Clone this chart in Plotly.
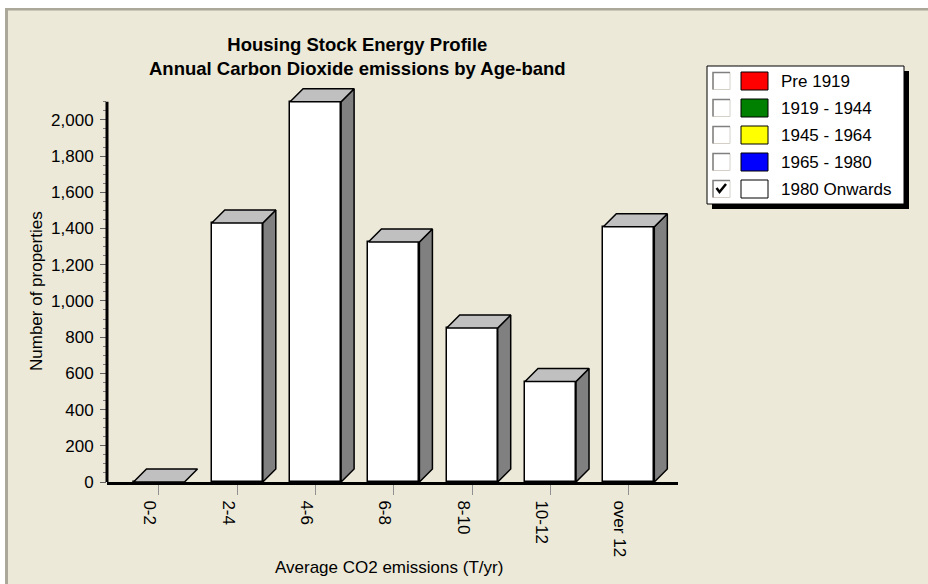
import plotly.graph_objects as go

# ---- data -------------------------------------------------------------
categories = ["0-2", "2-4", "4-6", "6-8", "8-10", "10-12", "over 12"]
properties_1980_onwards = [0, 1430, 2100, 1325, 850, 555, 1410]

y_tick_values = [0, 200, 400, 600, 800, 1000, 1200, 1400, 1600, 1800, 2000]
y_minor_values = [v for v in range(50, 2101, 50) if v % 200 != 0]
y_axis_top = 2100

age_bands = ["Pre 1919", "1919 - 1944", "1945 - 1964", "1965 - 1980", "1980 Onwards"]
band_colors = ["#FF0000", "#008000", "#FFFF00", "#0000FF", "#FFFFFF"]
band_checked = [False, False, False, False, True]

# ---- layout geometry ----------------------------------------------------
W, H = 928, 584
M_L, M_R, M_T, M_B = 107, 250, 86, 102
PLOT_W = W - M_L - M_R
PLOT_H = H - M_T - M_B
X_RANGE = [-0.664, 6.628]
Y_RANGE = [0, 2187]

px_per_cat = PLOT_W / (X_RANGE[1] - X_RANGE[0])
px_per_val = PLOT_H / (Y_RANGE[1] - Y_RANGE[0])
bar_w = 51 / px_per_cat      # front face width
depth_x = 13 / px_per_cat    # 3-D depth offset
depth_y = 13 / px_per_val

FONT = "Liberation Sans, Arial, sans-serif"
BG = "#ECE9D8"
FRAME = "#ACA899"


def paper_x(px):
    return (px - M_L) / PLOT_W


def paper_y(py):
    return (H - M_B - py) / PLOT_H


x_pos = list(range(len(categories)))

# ---- 3-D bar faces ------------------------------------------------------
top_x, top_y, side_x, side_y = [], [], [], []
for x, v in zip(x_pos, properties_1980_onwards):
    l, r = x - bar_w / 2, x + bar_w / 2
    top_x += [l, r, r + depth_x, l + depth_x, l, None]
    top_y += [v, v, v + depth_y, v + depth_y, v, None]
    if v > 0:
        side_x += [r, r + depth_x, r + depth_x, r, r, None]
        side_y += [0, depth_y, v + depth_y, v, 0, None]

fig = go.Figure()
fig.add_trace(go.Bar(
    x=x_pos, y=properties_1980_onwards, width=bar_w,
    marker=dict(color="white", line=dict(color="black", width=1.5)),
    hoverinfo="skip", showlegend=False,
))
fig.add_trace(go.Scatter(
    x=side_x, y=side_y, mode="lines", fill="toself", fillcolor="#808080",
    line=dict(color="black", width=1.5), hoverinfo="skip", showlegend=False,
))
fig.add_trace(go.Scatter(
    x=top_x, y=top_y, mode="lines", fill="toself", fillcolor="#C0C0C0",
    line=dict(color="black", width=1.5), hoverinfo="skip", showlegend=False,
))

shapes = []
annotations = []

# window frame
shapes += [
    dict(type="rect", xref="paper", yref="paper", x0=paper_x(-5), x1=paper_x(5),
         y0=paper_y(H + 5), y1=paper_y(-5), fillcolor="white", line_width=0, layer="below"),
    dict(type="rect", xref="paper", yref="paper", x0=paper_x(-5), x1=paper_x(W + 5),
         y0=paper_y(8), y1=paper_y(-5), fillcolor="white", line_width=0, layer="below"),
    dict(type="rect", xref="paper", yref="paper", x0=paper_x(5), x1=paper_x(8),
         y0=paper_y(H + 5), y1=paper_y(8), fillcolor=FRAME, line_width=0, layer="below"),
    dict(type="rect", xref="paper", yref="paper", x0=paper_x(5), x1=paper_x(W + 5),
         y0=paper_y(10.5), y1=paper_y(8), fillcolor=FRAME, line_width=0, layer="below"),
]

# y axis line
shapes.append(dict(type="line", xref="paper", yref="y", x0=0, x1=0, y0=0, y1=y_axis_top,
                   line=dict(color="black", width=3)))

# legend panel
LG_L, LG_R, LG_T, LG_B = 707, 904, 66, 204
shapes.append(dict(type="rect", xref="paper", yref="paper",
                   x0=paper_x(LG_L + 5), x1=paper_x(LG_R + 5),
                   y0=paper_y(LG_B + 5), y1=paper_y(LG_T + 5),
                   fillcolor="black", line_width=0))
shapes.append(dict(type="rect", xref="paper", yref="paper",
                   x0=paper_x(LG_L), x1=paper_x(LG_R), y0=paper_y(LG_B), y1=paper_y(LG_T),
                   fillcolor="white", line=dict(color="black", width=1)))

for i, (name, color, checked) in enumerate(zip(age_bands, band_colors, band_checked)):
    cy = 81 + 27 * i
    # check box
    shapes.append(dict(type="rect", xref="paper", yref="paper",
                       x0=paper_x(713), x1=paper_x(730), y0=paper_y(cy + 8.5), y1=paper_y(cy - 8.5),
                       fillcolor="white", line=dict(color="#D4D0C8", width=1)))
    shapes.append(dict(type="path", xref="paper", yref="paper",
                       path=f"M {paper_x(713)} {paper_y(cy + 8.5)} L {paper_x(713)} {paper_y(cy - 8.5)} "
                            f"L {paper_x(730)} {paper_y(cy - 8.5)}",
                       line=dict(color="#808080", width=1.5)))
    if checked:
        shapes.append(dict(type="path", xref="paper", yref="paper",
                           path=f"M {paper_x(716.5)} {paper_y(cy - 1)} L {paper_x(719.5)} {paper_y(cy + 3)} "
                                f"L {paper_x(726)} {paper_y(cy - 5)}",
                           line=dict(color="black", width=2.5)))
    # colour swatch
    shapes.append(dict(type="rect", xref="paper", yref="paper",
                       x0=paper_x(741), x1=paper_x(768), y0=paper_y(cy + 9), y1=paper_y(cy - 9),
                       fillcolor=color, line=dict(color="black", width=1)))
    annotations.append(dict(xref="paper", yref="paper", x=paper_x(779), y=paper_y(cy),
                            xanchor="left", yanchor="middle", showarrow=False, text=name,
                            font=dict(family=FONT, size=17, color="black")))

# titles
annotations.append(dict(xref="paper", yref="paper", x=paper_x(357), y=paper_y(57),
                        xanchor="center", yanchor="middle", showarrow=False,
                        text="<b>Housing Stock Energy Profile</b><br><b>Annual Carbon Dioxide emissions by Age-band</b>",
                        font=dict(family=FONT, size=18.5, color="black")))
annotations.append(dict(xref="paper", yref="paper", x=paper_x(36.5), y=paper_y(291.5),
                        xanchor="center", yanchor="middle", showarrow=False, textangle=-90,
                        text="Number of properties",
                        font=dict(family=FONT, size=17, color="black")))
annotations.append(dict(xref="paper", yref="paper", x=paper_x(389), y=paper_y(567),
                        xanchor="center", yanchor="middle", showarrow=False,
                        text="Average CO2 emissions (T/yr)",
                        font=dict(family=FONT, size=17, color="black")))

fig.update_layout(
    width=W, height=H,
    margin=dict(l=M_L, r=M_R, t=M_T, b=M_B, pad=0),
    paper_bgcolor=BG, plot_bgcolor="rgba(0,0,0,0)",
    showlegend=False, bargap=0,
    shapes=shapes, annotations=annotations,
    xaxis=dict(
        range=X_RANGE, tickmode="array", tickvals=x_pos, ticktext=categories,
        tickangle=90, ticks="outside", ticklen=10, tickwidth=1, tickcolor="#909090",
        ticklabelshift=-9, ticklabelstandoff=2,
        showline=True, linecolor="black", linewidth=3, mirror=False,
        showgrid=False, zeroline=False, fixedrange=True,
        tickfont=dict(family=FONT, size=17, color="black"),
    ),
    yaxis=dict(
        range=Y_RANGE, tickmode="array", tickvals=y_tick_values, tickformat=",",
        ticks="outside", ticklen=6, tickwidth=1, tickcolor="#606060",
        ticklabelstandoff=3,
        minor=dict(tickmode="array", tickvals=y_minor_values, ticks="outside",
                   ticklen=3.5, tickwidth=1, tickcolor="#808080"),
        showline=False, showgrid=False, zeroline=False, fixedrange=True,
        tickfont=dict(family=FONT, size=17, color="black"),
    ),
)

fig.write_html("out.html")
